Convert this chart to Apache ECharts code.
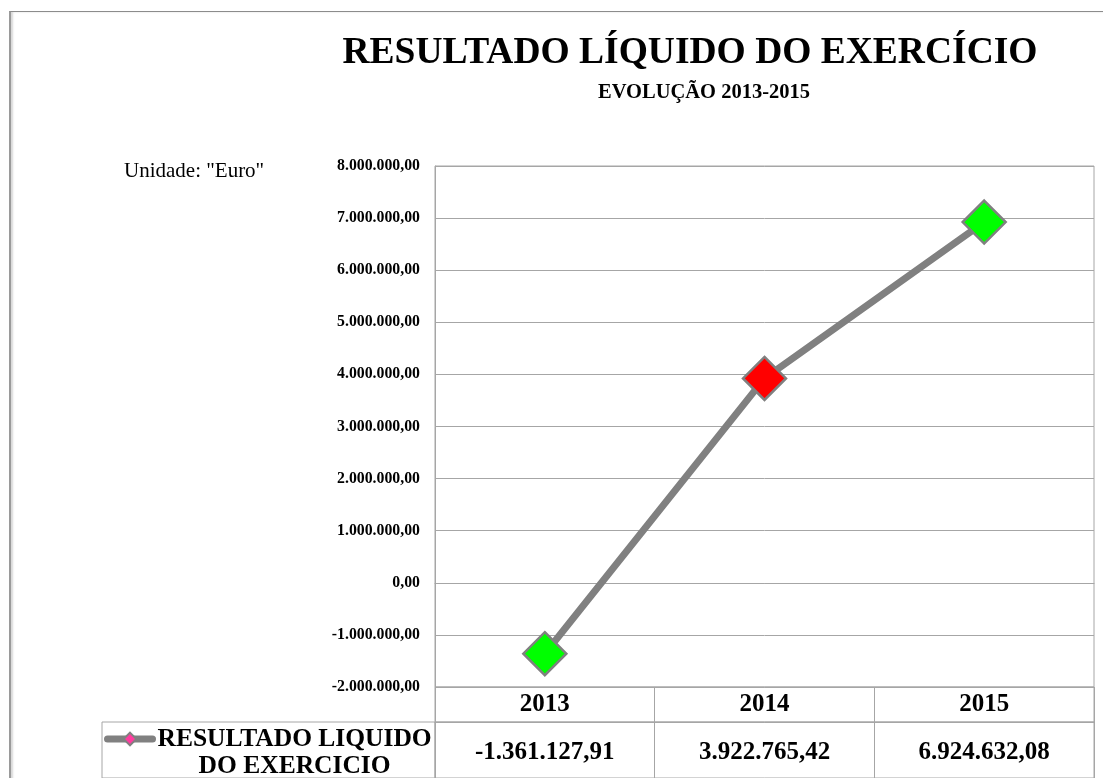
<!DOCTYPE html>
<html>
<head>
<meta charset="utf-8">
<script src="https://cdn.jsdelivr.net/npm/echarts@6/dist/echarts.min.js"></script>
<style>
  body { margin: 0; background: #fff; }
  #frame { position: absolute; left: 9px; top: 11px; width: 1200px; height: 900px;
           border-left: 2px solid #9a9a9a; border-top: 1px solid #8c8c8c;
           box-shadow: inset 2px 0 2px #d8d8d8; }
  #chart { position: absolute; left: 0; top: 0; width: 1103px; height: 778px; }
</style>
</head>
<body>
<div id="frame"></div>
<div id="chart"></div>
<script>
// dados
const anos = ['2013', '2014', '2015']
const resultado = [-1361127.91, 3922765.42, 6924632.08]
const nomeSerie = 'RESULTADO LIQUIDO DO EXERCICIO'

const serif = 'Liberation Serif, Times New Roman, serif'
const gridColor = '#a6a6a6'
const markerColors = ['#00ff00', '#ff0000', '#00ff00']

// 1234567.8 -> 1.234.567,80
function fmt (v) {
  let neg = v < 0
  let parts = Math.abs(v).toFixed(2).split('.')
  let int = parts[0].replace(/\B(?=(\d{3})+(?!\d))/g, '.')
  return (neg ? '-' : '') + int + ',' + parts[1]
}

let myChart = echarts.init(document.getElementById('chart'))
let option = {
  backgroundColor: 'transparent',
  animation: false,
  title: [
    {
      text: 'RESULTADO LÍQUIDO DO EXERCÍCIO',
      left: 685,
      textAlign: 'center',
      top: 29,
      textStyle: { fontFamily: serif, fontSize: 37.5, fontWeight: 'bold', color: '#000' }
    },
    {
      text: 'EVOLUÇÃO 2013-2015',
      left: 699,
      textAlign: 'center',
      top: 77,
      textStyle: { fontFamily: serif, fontSize: 20.5, fontWeight: 'bold', color: '#000' }
    },
    {
      text: 'Unidade: "Euro"',
      left: 119,
      top: 156,
      textStyle: { fontFamily: serif, fontSize: 21, fontWeight: 'normal', color: '#000' }
    }
  ],
  legend: {
    data: [nomeSerie],
    left: 104,
    top: 726,
    padding: 0,
    itemWidth: 45,
    itemHeight: 16,
    selectedMode: false,
    lineStyle: { width: 7, cap: 'round', color: '#808080' },
    formatter: function () {
      return '{a|RESULTADO LIQUIDO}\n{a|DO EXERCICIO}'
    },
    textStyle: {
      padding: [27, 0, 0, 0],
      rich: {
        a: { align: 'center', fontFamily: serif, fontSize: 25.5, fontWeight: 'bold', color: '#000', lineHeight: 27 }
      }
    }
  },
  grid: [
    { left: 435, top: 166, width: 659, height: 521, show: true, borderColor: gridColor, borderWidth: 1 },
    { left: 435, top: 687, width: 659, height: 35, show: true, borderColor: gridColor, borderWidth: 1 },
    { left: 435, top: 722, width: 659, height: 90, show: true, borderColor: gridColor, borderWidth: 1 },
    { left: 102, top: 722, width: 333, height: 90, show: true, borderColor: gridColor, borderWidth: 1 }
  ],
  xAxis: [
    {
      gridIndex: 0,
      type: 'category',
      data: anos,
      axisLine: { lineStyle: { color: gridColor } },
      axisTick: { show: false },
      axisLabel: { show: false }
    },
    {
      gridIndex: 1,
      type: 'category',
      data: anos,
      position: 'top',
      axisLine: { lineStyle: { color: gridColor } },
      axisTick: { show: false },
      axisLabel: {
        inside: true, margin: 5, interval: 0,
        fontFamily: serif, fontSize: 25, fontWeight: 'bold', color: '#000'
      },
      splitLine: { show: true, interval: 0, lineStyle: { color: gridColor } }
    },
    {
      gridIndex: 2,
      type: 'category',
      data: resultado.map(fmt),
      position: 'top',
      axisLine: { lineStyle: { color: gridColor } },
      axisTick: { show: false },
      axisLabel: {
        inside: true, margin: 18, interval: 0,
        fontFamily: serif, fontSize: 25, fontWeight: 'bold', color: '#000'
      },
      splitLine: { show: true, interval: 0, lineStyle: { color: gridColor } }
    },
    { gridIndex: 3, type: 'category', data: [''], show: false }
  ],
  yAxis: [
    {
      gridIndex: 0,
      type: 'value',
      min: -2000000,
      max: 8000000,
      interval: 1000000,
      axisLine: { show: true, lineStyle: { color: gridColor } },
      axisTick: { show: false },
      axisLabel: {
        margin: 15,
        formatter: fmt,
        fontFamily: serif, fontSize: 15.8, fontWeight: 'bold', color: '#000'
      },
      splitLine: { show: true, lineStyle: { color: gridColor } }
    },
    { gridIndex: 1, type: 'value', show: false, splitLine: { show: false } },
    { gridIndex: 2, type: 'value', show: false, splitLine: { show: false } },
    { gridIndex: 3, type: 'value', show: false, splitLine: { show: false } }
  ],
  series: [
    {
      name: nomeSerie,
      type: 'line',
      xAxisIndex: 0,
      yAxisIndex: 0,
      symbol: 'diamond',
      symbolSize: 43,
      lineStyle: { color: '#808080', width: 7, cap: 'round' },
      itemStyle: { color: '#ff3c9f', borderColor: '#808080', borderWidth: 2.5 },
      data: resultado.map(function (v, i) {
        return { value: v, itemStyle: { color: markerColors[i] } }
      })
    }
  ]
}
myChart.setOption(option)
</script>
</body>
</html>
